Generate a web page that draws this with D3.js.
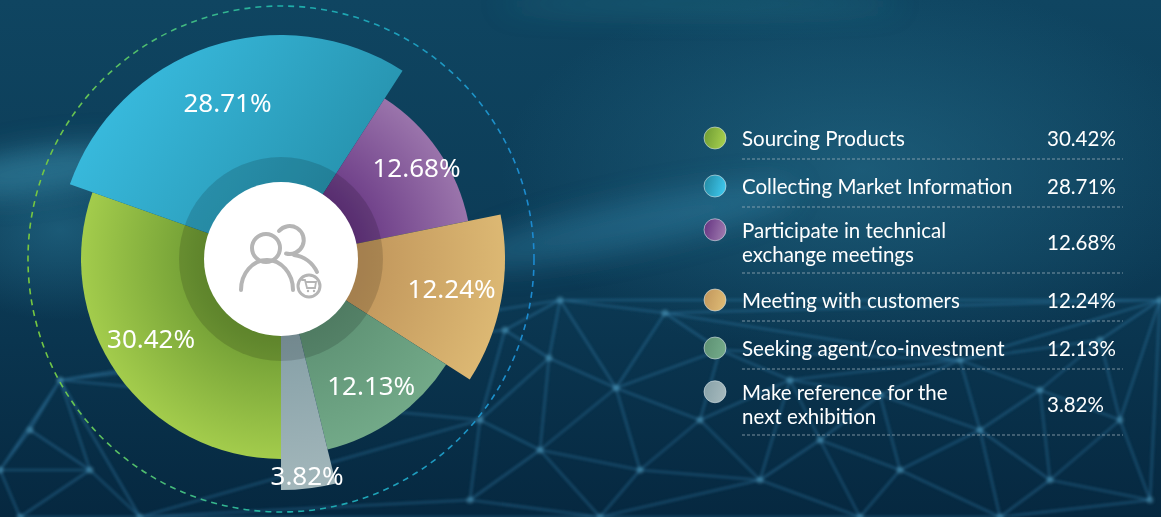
<!DOCTYPE html>
<html>
<head>
<meta charset="utf-8">
<script src="https://cdn.jsdelivr.net/npm/d3@7"></script>
<style>
  body { margin: 0; background: #0b3550; overflow: hidden; }
  svg { display: block; }
  text { font-family: "Noto Sans", "Open Sans", sans-serif; }
  .legend text { font-family: Lato, "Noto Sans", sans-serif; }
</style>
</head>
<body>
<div id="chart"></div>
<script>
  // --------------------------------------
  //  Data
  // --------------------------------------

  const categories = [
    "Sourcing Products",
    "Collecting Market Information",
    "Participate in technical exchange meetings",
    "Meeting with customers",
    "Seeking agent/co-investment",
    "Make reference for the next exhibition"
  ];
  const legendLines = [
    ["Sourcing Products"],
    ["Collecting Market Information"],
    ["Participate in technical", "exchange meetings"],
    ["Meeting with customers"],
    ["Seeking agent/co-investment"],
    ["Make reference for the", "next exhibition"]
  ];
  const values = [30.42, 28.71, 12.68, 12.24, 12.13, 3.82];

  // light / dark tone of each slice
  const colorsLight = ["#a3cc4c", "#3cc3e8", "#9a74ab", "#dcb873", "#72a988", "#a3b7bb"];
  const colorsDark = ["#6b9832", "#21869f", "#62307f", "#c0955b", "#5c8f72", "#86a0a7"];

  // --------------------------------------
  //  Canvas
  // --------------------------------------

  const width = 1161;
  const height = 517;
  const cx = 281, cy = 259;

  const svg = d3
    .select("#chart")
    .append("svg")
    .attr("width", width)
    .attr("height", height)
    .attr("viewBox", [0, 0, width, height]);

  const defs = svg.append("defs");

  // --------------------------------------
  //  Background (decoration)
  // --------------------------------------

  const bg = defs.append("linearGradient").attr("id", "bg")
    .attr("x1", 0).attr("y1", 0).attr("x2", 0).attr("y2", 1);
  bg.append("stop").attr("offset", 0).attr("stop-color", "#0f4561");
  bg.append("stop").attr("offset", 0.5).attr("stop-color", "#0c3b56");
  bg.append("stop").attr("offset", 1).attr("stop-color", "#062840");

  const glow = defs.append("radialGradient").attr("id", "glow");
  glow.append("stop").attr("offset", 0).attr("stop-color", "#2a7896").attr("stop-opacity", 0.5);
  glow.append("stop").attr("offset", 1).attr("stop-color", "#2a7896").attr("stop-opacity", 0);

  defs.append("filter").attr("id", "blur")
    .attr("x", "-50%").attr("y", "-50%").attr("width", "200%").attr("height", "200%")
    .append("feGaussianBlur").attr("stdDeviation", 14);

  defs.append("filter").attr("id", "soft")
    .append("feGaussianBlur").attr("stdDeviation", 1.6);

  svg.append("rect").attr("width", width).attr("height", height).attr("fill", "url(#bg)");

  svg.append("ellipse").attr("cx", 860).attr("cy", 170).attr("rx", 360).attr("ry", 190)
    .attr("fill", "url(#glow)");
  svg.append("ellipse").attr("cx", 60).attr("cy", 230).attr("rx", 140).attr("ry", 90)
    .attr("fill", "url(#glow)");

  // smoky streaks
  const streaks = svg.append("g").attr("filter", "url(#blur)");
  streaks.append("ellipse").attr("cx", 630).attr("cy", 225).attr("rx", 170).attr("ry", 24)
    .attr("transform", "rotate(-12,630,225)").attr("fill", "#3a9cc0").attr("opacity", 0.32);
  streaks.append("ellipse").attr("cx", 40).attr("cy", 170).attr("rx", 110).attr("ry", 22)
    .attr("transform", "rotate(-8,40,170)").attr("fill", "#4aa9c8").attr("opacity", 0.4);
  streaks.append("ellipse").attr("cx", 700).attr("cy", 4).attr("rx", 200).attr("ry", 6)
    .attr("fill", "#3fb0b8").attr("opacity", 0.35);

  // network mesh
  const meshNodes = [
    [505, 330], [560, 300], [549, 358], [616, 388], [665, 313], [720, 350],
    [540, 450], [640, 470], [700, 420], [760, 480], [820, 440], [790, 380],
    [900, 470], [880, 395], [980, 430], [960, 360], [1050, 480], [1040, 390],
    [1120, 420], [1100, 340], [1160, 300], [1150, 500], [600, 517], [860, 517],
    [1000, 517], [480, 420], [470, 500], [30, 430], [90, 470], [20, 517], [140, 517],
    [60, 380], [0, 470]
  ];
  const delaunay = d3.Delaunay.from(meshNodes);
  const mesh = svg.append("g").attr("filter", "url(#soft)");
  mesh.append("path")
    .attr("d", delaunay.render())
    .attr("fill", "none")
    .attr("stroke", "#3d90c0")
    .attr("stroke-width", 1.6)
    .attr("opacity", 0.5);
  mesh.selectAll("circle")
    .data(meshNodes)
    .join("circle")
    .attr("cx", d => d[0])
    .attr("cy", d => d[1])
    .attr("r", 3.5)
    .attr("fill", "#5fb2d4")
    .attr("opacity", 0.4);

  // --------------------------------------
  //  Dashed orbit
  // --------------------------------------

  const orbitGrad = defs.append("linearGradient").attr("id", "orbit")
    .attr("gradientUnits", "userSpaceOnUse")
    .attr("x1", cx - 253).attr("y1", cy).attr("x2", cx + 253).attr("y2", cy);
  orbitGrad.append("stop").attr("offset", 0).attr("stop-color", "#78c83e");
  orbitGrad.append("stop").attr("offset", 0.5).attr("stop-color", "#1fb0a8");
  orbitGrad.append("stop").attr("offset", 1).attr("stop-color", "#1c8ad0");

  svg.append("circle")
    .attr("cx", cx)
    .attr("cy", cy)
    .attr("r", 253)
    .attr("fill", "none")
    .attr("stroke", "url(#orbit)")
    .attr("stroke-width", 1.6)
    .attr("stroke-dasharray", "6 5");

  // --------------------------------------
  //  Pie
  // --------------------------------------

  // how far each slice reaches out, and where its label sits
  const reach = [200, 224, 191, 224, 196, 231];
  const labelR = [152, 166, 164, 173, 155, 218];
  const labelTurn = [4, 0, 0, -1, 0, 0]; // degrees

  const pie = d3.pie()
    .sort(null)
    .value(d => d)
    .startAngle(Math.PI)
    .endAngle(3 * Math.PI);
  const arcs = pie(values);

  arcs.forEach((a, i) => {
    if (i === 1) return;
    const g = defs.append("radialGradient")
      .attr("id", `slice${i}`)
      .attr("gradientUnits", "userSpaceOnUse")
      .attr("cx", 0).attr("cy", 0).attr("r", reach[i]);
    g.append("stop").attr("offset", 0.35).attr("stop-color", colorsDark[i]);
    g.append("stop").attr("offset", 1).attr("stop-color", colorsLight[i]);
  });

  // blue slice: lighter on the upper left
  const blue = defs.append("linearGradient").attr("id", "slice1")
    .attr("gradientUnits", "userSpaceOnUse")
    .attr("x1", -200).attr("y1", -220).attr("x2", 120).attr("y2", 0);
  blue.append("stop").attr("offset", 0).attr("stop-color", colorsLight[1]);
  blue.append("stop").attr("offset", 1).attr("stop-color", colorsDark[1]);

  const pieG = svg.append("g").attr("transform", `translate(${cx},${cy})`);

  pieG.selectAll("path.slice")
    .data(arcs)
    .join("path")
    .attr("class", "slice")
    .attr("d", (d, i) => d3.arc().innerRadius(0).outerRadius(reach[i])(d))
    .attr("fill", (d, i) => `url(#slice${i})`);

  // darker ring and white hub
  pieG.append("circle").attr("r", 102).attr("fill", "#000").attr("opacity", 0.14);
  pieG.append("circle").attr("r", 77).attr("fill", "#ffffff");

  pieG.selectAll("text.pct")
    .data(arcs)
    .join("text")
    .attr("class", "pct")
    .attr("transform", (d, i) => {
      const a = (d.startAngle + d.endAngle) / 2 + labelTurn[i] * Math.PI / 180;
      return `translate(${Math.sin(a) * labelR[i]},${-Math.cos(a) * labelR[i]})`;
    })
    .attr("text-anchor", "middle")
    .attr("dominant-baseline", "central")
    .attr("fill", "#ffffff")
    .attr("font-size", 26)
    .text(d => d.data.toFixed(2) + "%");

  // --------------------------------------
  //  Icon in the hub
  // --------------------------------------

  const icon = pieG.append("g")
    .attr("fill", "none")
    .attr("stroke", "#b5b5b5")
    .attr("stroke-width", 4)
    .attr("stroke-linecap", "round");

  icon.append("path").attr("d", "M -2 -28 A 14 14 0 1 1 5 -5.5");
  icon.append("path").attr("d", "M 13 -4 A 30 30 0 0 1 36 13");
  icon.append("circle").attr("cx", -15).attr("cy", -11).attr("r", 14);
  icon.append("path").attr("d", "M -40 31 A 26 30 0 0 1 12 31");

  icon.append("circle").attr("cx", 28).attr("cy", 27).attr("r", 11)
    .attr("fill", "#ffffff").attr("stroke-width", 3);
  icon.append("path")
    .attr("d", "M 21 21 L 24 21 L 26 29 L 34 29 L 35 23 L 24.5 23")
    .attr("stroke-width", 1.8);
  icon.append("circle").attr("cx", 27).attr("cy", 32).attr("r", 1.2).attr("fill", "#b5b5b5").attr("stroke", "none");
  icon.append("circle").attr("cx", 33).attr("cy", 32).attr("r", 1.2).attr("fill", "#b5b5b5").attr("stroke", "none");

  // --------------------------------------
  //  Legend
  // --------------------------------------

  const legendX = 742, valueX = 1047, lineRight = 1123;
  const lineGap = 24.5;
  let rowTop = 111;
  const rows = legendLines.map((lines, i) => {
    const h = lines.length === 1 ? 48 : 66;
    const bottom = rowTop + h;
    const row = { i, lines, bottom, center: bottom - (lines.length === 1 ? 21 : 31) };
    rowTop = bottom;
    return row;
  });

  colorsLight.forEach((c, i) => {
    const g = defs.append("linearGradient").attr("id", `dot${i}`)
      .attr("x1", 0).attr("y1", 0).attr("x2", 1).attr("y2", 0.3);
    g.append("stop").attr("offset", 0).attr("stop-color", colorsDark[i]);
    g.append("stop").attr("offset", 1).attr("stop-color", c);
  });

  const legend = svg.append("g").attr("class", "legend");

  const row = legend.selectAll("g.row")
    .data(rows)
    .join("g")
    .attr("class", "row");

  row.append("circle")
    .attr("cx", 715)
    .attr("cy", d => d.center - (d.lines.length - 1) * lineGap / 2)
    .attr("r", 11)
    .attr("fill", d => `url(#dot${d.i})`)
    .attr("stroke", "#d8e4e8")
    .attr("stroke-opacity", 0.6)
    .attr("stroke-width", 1);

  row.selectAll("text.name")
    .data(d => d.lines.map((t, k) => ({ t, y: d.center + (k - (d.lines.length - 1) / 2) * lineGap })))
    .join("text")
    .attr("class", "name")
    .attr("x", legendX)
    .attr("y", d => d.y)
    .attr("dominant-baseline", "central")
    .attr("fill", "#ffffff")
    .attr("font-size", 20.5)
    .text(d => d.t);

  row.append("text")
    .attr("x", valueX)
    .attr("y", d => d.center)
    .attr("dominant-baseline", "central")
    .attr("fill", "#ffffff")
    .attr("font-size", 20.5)
    .text(d => values[d.i].toFixed(2) + "%");

  row.append("line")
    .attr("x1", legendX)
    .attr("x2", lineRight)
    .attr("y1", d => d.bottom)
    .attr("y2", d => d.bottom)
    .attr("stroke", "#aab8c2")
    .attr("stroke-opacity", 0.7)
    .attr("stroke-width", 1)
    .attr("stroke-dasharray", "3 2");
</script>
</body>
</html>
